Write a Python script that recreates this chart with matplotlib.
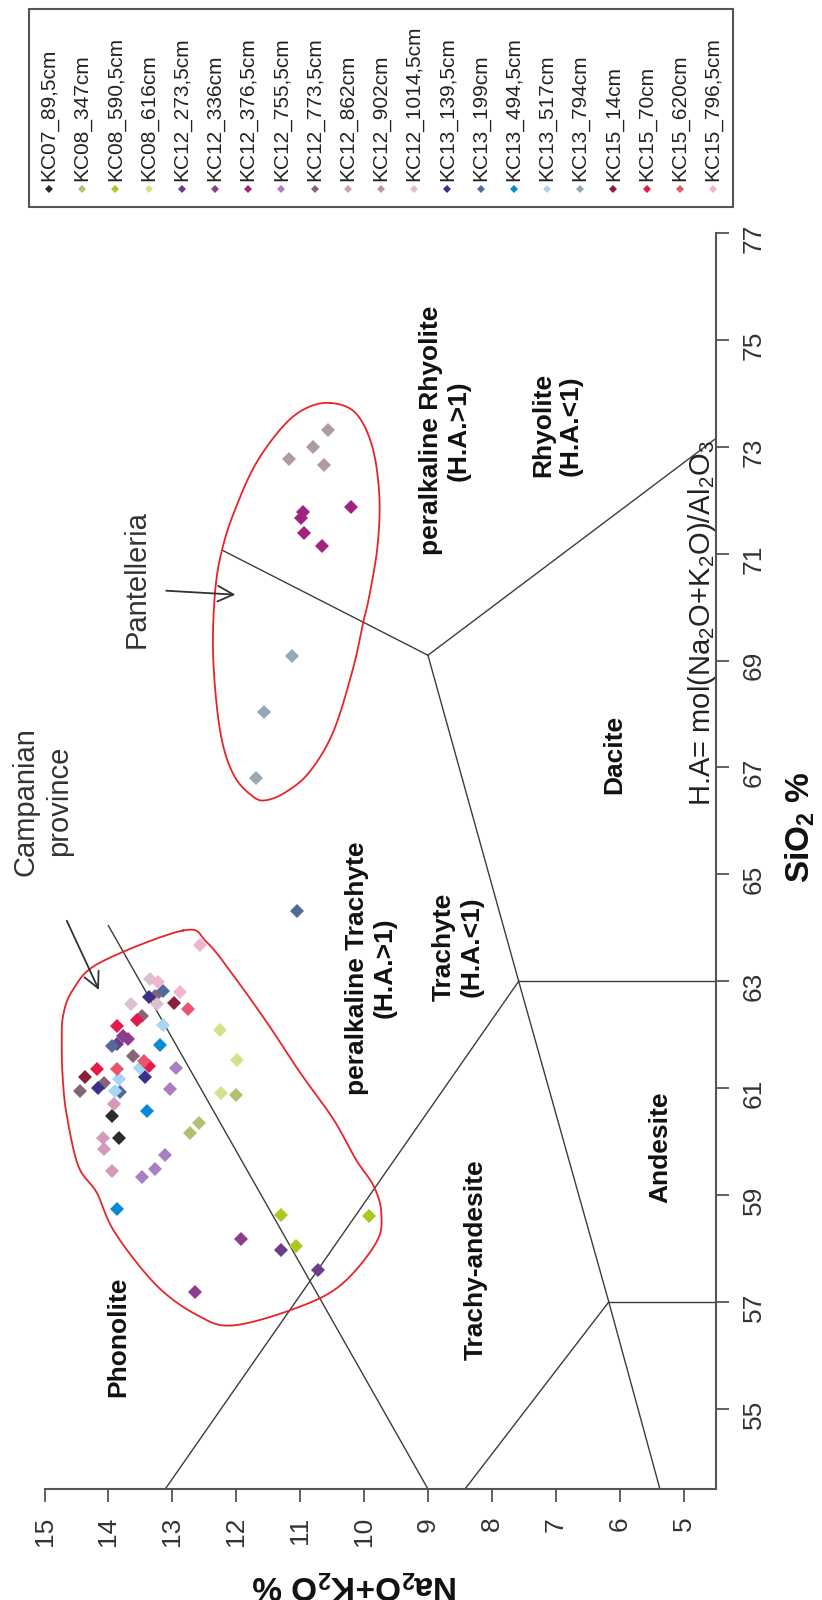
import numpy as np
import matplotlib
matplotlib.use('Agg')
import matplotlib.pyplot as plt
from matplotlib.patches import Rectangle
from matplotlib.lines import Line2D

plt.rcParams['font.family'] = ['Liberation Sans', 'DejaVu Sans']
plt.rcParams['mathtext.default'] = 'regular'

# samples (legend order) and their glass compositions
samples = ['KC07_89,5cm', 'KC08_347cm', 'KC08_590,5cm', 'KC08_616cm',
           'KC12_273,5cm', 'KC12_336cm', 'KC12_376,5cm', 'KC12_755,5cm',
           'KC12_773,5cm', 'KC12_862cm', 'KC12_902cm', 'KC12_1014,5cm',
           'KC13_139,5cm', 'KC13_199cm', 'KC13_494,5cm', 'KC13_517cm',
           'KC13_794cm', 'KC15_14cm', 'KC15_70cm', 'KC15_620cm', 'KC15_796,5cm']
sample_colors = ['#2b2b2b', '#b6bf70', '#a8c920', '#d9e08c',
                 '#6b3d8c', '#8e3c8c', '#a3217f', '#a77fc2',
                 '#866676', '#d49ab9', '#b09aa8', '#dcc0d0',
                 '#3a3088', '#55699a', '#0a8ad6', '#a6d6f4',
                 '#97a7b3', '#8a1f3c', '#e6194b', '#e8556d', '#f2b3d0']

sio2 = [[60.48, 60.07],
        [60.34, 60.17, 60.88],
        [58.63, 58.61, 58.05],
        [62.09, 61.53, 60.90],
        [57.97, 57.60, 61.82],
        [58.17, 57.19, 61.98, 61.92],
        [71.88, 71.78, 71.66, 71.39, 71.15],
        [61.38, 60.98, 59.74, 59.49, 59.34],
        [62.73, 62.35, 61.60, 61.10, 60.95],
        [60.70, 60.07, 59.87, 59.45],
        [73.32, 73.00, 72.77, 72.65],
        [63.04, 62.57, 62.57],
        [62.70, 61.20, 61.01],
        [64.31, 62.82, 60.92, 61.79],
        [61.80, 60.57, 58.74],
        [62.18, 61.38, 61.17, 60.95],
        [69.08, 68.03, 66.80],
        [62.59, 61.20],
        [62.28, 62.16, 61.36, 61.41],
        [62.49, 61.35, 61.51],
        [63.67, 62.98, 62.79]]
alkali = [[13.95, 13.83],
          [12.59, 12.72, 12.01],
          [11.30, 9.92, 11.07],
          [12.26, 11.98, 12.24],
          [11.30, 10.72, 13.87],
          [11.93, 12.65, 13.77, 13.69],
          [10.20, 10.95, 10.98, 10.94, 10.65],
          [12.94, 13.04, 13.11, 13.27, 13.48],
          [13.27, 13.48, 13.61, 14.07, 14.44],
          [13.92, 14.09, 14.07, 13.95],
          [10.57, 10.80, 11.17, 10.63],
          [13.35, 13.64, 13.24],
          [13.37, 13.43, 14.16],
          [11.05, 13.14, 13.82, 13.95],
          [13.19, 13.39, 13.86],
          [13.14, 13.50, 13.84, 13.90],
          [11.12, 11.56, 11.69],
          [12.98, 14.37],
          [13.56, 13.87, 14.18, 13.37],
          [12.75, 13.87, 13.45],
          [12.57, 13.22, 12.88]]

# classification boundaries (SiO2, Na2O+K2O)
boundary_si = [[53.5, 57, 63], [53.5, 57], [57, 57], [53.5, 63], [63, 63],
               [63, 69.1], [69.1, 73.15], [69.1, 71.06], [53.5, 64.04]]
boundary_na = [[5.37, 6.17, 7.58], [8.42, 6.17], [6.17, 4.5], [13.11, 7.58], [7.58, 4.5],
               [7.58, 9.0], [9.0, 4.5], [9.0, 12.21], [9.0, 14.0]]

field_names = ['Phonolite', 'Trachy-andesite', 'Andesite', 'Dacite',
               'peralkaline Trachyte\n(H.A.>1)', 'Trachyte\n(H.A.<1)',
               'peralkaline Rhyolite\n(H.A.>1)', 'Rhyolite\n(H.A.<1)']
field_si = [56.35, 57.79, 59.9, 67.25, 63.25, 63.64, 73.3, 73.4]
field_na = [13.85, 8.25, 5.37, 6.09, 9.89, 8.54, 8.73, 6.98]

# outlines of the reference fields
campanian_si = [63.95, 63.73, 63.10, 62.23, 61.29, 60.42, 59.67, 59.17, 58.67, 58.11,
                57.30, 56.86, 56.56, 56.74, 57.30, 58.30, 59.04, 59.54, 60.48, 61.10,
                61.73, 62.35, 62.85, 63.35]
campanian_na = [12.83, 12.46, 12.04, 11.52, 11.00, 10.48, 10.13, 9.85, 9.73, 9.81,
                10.38, 11.12, 12.06, 12.59, 13.24, 13.90, 14.18, 14.47, 14.65, 14.71,
                14.73, 14.71, 14.55, 14.13]
pantelleria_si = [73.82, 73.63, 73.00, 72.07, 71.13, 70.19, 69.73, 68.86, 67.67, 66.92,
                  66.55, 66.39, 66.45, 66.86, 67.67, 69.05, 70.30, 71.13, 71.88, 72.69,
                  73.38, 73.72]
pantelleria_na = [10.52, 10.13, 9.87, 9.76, 9.79, 9.92, 10.01, 10.17, 10.48, 10.85,
                  11.21, 11.52, 11.73, 12.04, 12.25, 12.36, 12.33, 12.21, 12.00, 11.69,
                  11.27, 10.91]


def smooth_closed(si, na, n=16):
    # closed Catmull-Rom curve through the outline vertices
    p = np.column_stack([np.asarray(na) * 63.9, np.asarray(si) * 53.3])
    k = len(p)
    t = np.linspace(0, 1, n, endpoint=False)[:, None]
    out = []
    for i in range(k):
        p0, p1, p2, p3 = p[i - 1], p[i], p[(i + 1) % k], p[(i + 2) % k]
        out.append(0.5 * (2 * p1 + (-p0 + p2) * t + (2 * p0 - 5 * p1 + 4 * p2 - p3) * t ** 2
                          + (-p0 + 3 * p1 - 3 * p2 + p3) * t ** 3))
    out = np.vstack(out + [out[0][:1]])
    return out[:, 1] / 53.3, out[:, 0] / 63.9


fig = plt.figure(figsize=(8.22, 16), dpi=100)
ax = fig.add_axes([44.5 / 822, 111 / 1600, 671 / 822, 1256 / 1600])
ax.set_xlim(15, 4.5)
ax.set_ylim(53.5, 77)

for s in ['top', 'left']:
    ax.spines[s].set_visible(False)
for s in ['bottom', 'right']:
    ax.spines[s].set_color('#555555')
    ax.spines[s].set_linewidth(1.5)
ax.yaxis.tick_right()
ax.set_xticks(range(5, 16))
ax.set_yticks(range(55, 78, 2))
ax.tick_params(direction='out', length=9, width=1.3, colors='#555555',
               labelcolor='#333333', labelsize=19, labelrotation=90)
ax.tick_params(axis='x', pad=11)
ax.tick_params(axis='y', pad=10)

# boundaries
for bs, bn in zip(boundary_si, boundary_na):
    ax.plot(bn, bs, color='#3c3c3c', lw=1.0, zorder=2)

# outlines
for osi, ona in [(campanian_si, campanian_na), (pantelleria_si, pantelleria_na)]:
    cs, cn = smooth_closed(osi, ona)
    ax.plot(cn, cs, color='#e8232b', lw=1.3, zorder=2)

# field names
for name, fs, fn in zip(field_names, field_si, field_na):
    ax.text(fn, fs, name, rotation=90, ha='center', va='center', fontsize=19,
            fontweight='bold', color='#111111')

ax.text(4.71, 69.7, r'H.A= mol(Na$_2$O+K$_2$O)/Al$_2$O$_3$', rotation=90,
        ha='center', va='center', fontsize=21, color='#222222')
ax.text(15.04, 66.37, 'Campanian\nprovince', rotation=90, ha='center', va='center',
        fontsize=21, color='#333333', linespacing=1.25, clip_on=False)
ax.text(13.56, 69.23, 'Pantelleria', rotation=90, ha='center', va='bottom',
        fontsize=21, color='#333333')

arrow = dict(arrowstyle='->', color='#333333', lw=1.3, mutation_scale=28)
ax.annotate('', xy=(14.13, 62.79), xytext=(14.67, 64.18), arrowprops=arrow)
ax.annotate('', xy=(11.97, 70.23), xytext=(13.14, 70.31), arrowprops=arrow)

# samples
for name, c, s, a in zip(samples, sample_colors, sio2, alkali):
    ax.plot(a, s, ls='none', marker='D', ms=7.6, mew=0, color=c, zorder=3)

# axis titles
fig.text(800 / 822, 1 - 827 / 1600, r'SiO$_2$ %', rotation=90, ha='center', va='center',
         fontsize=24, fontweight='bold', color='#111111')
fig.text(355 / 822, 1 - 1584 / 1600, r'Na$_2$O+K$_2$O %', rotation=180, ha='center',
         va='center', fontsize=24, fontweight='bold', color='#111111')

# legend, drawn by hand because it is rotated
fig.add_artist(Rectangle((29 / 822, 1 - 207 / 1600), 704 / 822, 198 / 1600,
                         transform=fig.transFigure, fill=False, ec='#555555', lw=1.5))
for i, (name, c) in enumerate(zip(samples, sample_colors)):
    lx = (49 + 33.2 * i) / 822
    fig.add_artist(Line2D([lx], [1 - 189 / 1600], marker='D', ms=4, mew=0, color=c,
                          transform=fig.transFigure))
    fig.text(lx, 1 - 181 / 1600, name, rotation=90, ha='center', va='bottom',
             fontsize=15, color='#222222')

fig.savefig('out.png', dpi=100)
